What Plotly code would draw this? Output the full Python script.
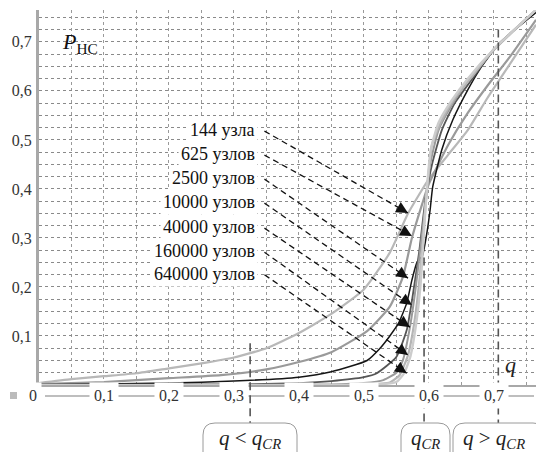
import plotly.graph_objects as go

# ---------------- data ----------------
series_names = ["144 узла", "625 узлов", "2500 узлов", "10000 узлов",
                "40000 узлов", "160000 узлов", "640000 узлов"]

q_144 = [0, 0.05, 0.1, 0.15, 0.2, 0.25, 0.3, 0.35, 0.4, 0.45, 0.5, 0.54, 0.568, 0.6, 0.63, 0.66, 0.69, 0.725, 0.765]
p_144 = [0.004, 0.012, 0.018, 0.024, 0.034, 0.044, 0.056, 0.075, 0.106, 0.145, 0.195, 0.27, 0.35, 0.42, 0.47, 0.52, 0.585, 0.655, 0.735]

q_625 = [0, 0.1, 0.15, 0.2, 0.28, 0.35, 0.4, 0.45, 0.505, 0.54, 0.56, 0.574, 0.59, 0.6, 0.63, 0.66, 0.69, 0.725, 0.765]
p_625 = [0.002, 0.006, 0.01, 0.014, 0.02, 0.032, 0.047, 0.067, 0.11, 0.16, 0.22, 0.3, 0.37, 0.41, 0.49, 0.555, 0.61, 0.67, 0.745]

q_2500 = [0, 0.1, 0.2, 0.3, 0.4, 0.45, 0.505, 0.525, 0.54, 0.553, 0.566, 0.574, 0.582, 0.59, 0.597, 0.602, 0.606, 0.62, 0.637, 0.66, 0.678, 0.709, 0.765]
p_2500 = [0.001, 0.002, 0.004, 0.008, 0.016, 0.027, 0.05, 0.075, 0.1, 0.125, 0.167, 0.214, 0.251, 0.263, 0.31, 0.357, 0.404, 0.48, 0.541, 0.602, 0.643, 0.698, 0.76]

q_10000 = [0, 0.3, 0.4, 0.45, 0.5, 0.52, 0.55, 0.566, 0.575, 0.585, 0.595, 0.605, 0.62, 0.64, 0.67, 0.7, 0.765]
p_10000 = [0, 0.001, 0.004, 0.008, 0.016, 0.024, 0.057, 0.112, 0.18, 0.27, 0.38, 0.45, 0.52, 0.575, 0.63, 0.685, 0.765]

q_40000 = [0, 0.45, 0.5, 0.53, 0.55, 0.56, 0.571, 0.58, 0.588, 0.595, 0.602, 0.615, 0.635, 0.66, 0.7, 0.765]
p_40000 = [0, 0.001, 0.004, 0.01, 0.025, 0.05, 0.118, 0.2, 0.29, 0.37, 0.45, 0.52, 0.57, 0.62, 0.683, 0.765]

q_160000 = [0, 0.5, 0.54, 0.555, 0.568, 0.578, 0.586, 0.592, 0.598, 0.605, 0.62, 0.64, 0.67, 0.7, 0.765]
p_160000 = [0, 0.001, 0.005, 0.02, 0.061, 0.13, 0.22, 0.32, 0.41, 0.49, 0.54, 0.585, 0.635, 0.685, 0.765]

q_640000 = [0, 0.52, 0.55, 0.562, 0.572, 0.58, 0.587, 0.592, 0.597, 0.603, 0.615, 0.635, 0.66, 0.7, 0.765]
p_640000 = [0, 0.001, 0.006, 0.024, 0.06, 0.12, 0.2, 0.3, 0.4, 0.48, 0.535, 0.58, 0.625, 0.685, 0.765]

series_q = [q_144, q_625, q_2500, q_10000, q_40000, q_160000, q_640000]
series_p = [p_144, p_625, p_2500, p_10000, p_40000, p_160000, p_640000]

# legend label anchor (value coords) and arrow targets
label_q = 0.337
label_p = [0.520, 0.471, 0.422, 0.373, 0.322, 0.273, 0.227]
arrow_start_q = 0.347
arrow_end_q = [0.568, 0.574, 0.568, 0.574, 0.571, 0.568, 0.566]
arrow_end_p = [0.351, 0.304, 0.218, 0.163, 0.118, 0.061, 0.024]

x_tick_vals = [0, 0.1, 0.2, 0.3, 0.4, 0.5, 0.6, 0.7]
x_tick_text = ["0", "0,1", "0,2", "0,3", "0,4", "0,5", "0,6", "0,7"]
y_tick_vals = [0.1, 0.2, 0.3, 0.4, 0.5, 0.6, 0.7]
y_tick_text = ["0,1", "0,2", "0,3", "0,4", "0,5", "0,6", "0,7"]

# regime markers: q position and upper end (P) of dashed line
regime_q = [0.325, 0.5927, 0.707]
regime_top = [0.085, 0.26, 0.725]

# ---------------- styles ----------------
colors = ["#b8b8b8", "#9a9a9a", "#151515", "#555555", "#999999", "#b5b5b5", "#cccccc"]
widths = [2.2, 2.2, 1.5, 1.8, 2.0, 2.2, 2.4]
SERIF = "Liberation Serif"

W, H = 536, 452
ML, MR, MT, MB = 39, 0, 10, 67
PW, PH = W - ML - MR, H - MT - MB
XMAX, YMAX = 0.765, 0.765

def pxx(px):
    return (px - ML) / PW

def pxy(py):
    return (H - MB - py) / PH

fig = go.Figure()

for q, p, c, w, n in zip(series_q, series_p, colors, widths, series_names):
    fig.add_trace(go.Scatter(x=q, y=p, mode="lines", name=n,
                             line=dict(color=c, width=w, shape="spline", smoothing=0.5),
                             hoverinfo="skip", showlegend=False))

annotations = []
shapes = []

# dashed arrow shafts + solid arrowheads
for ep_q, ep_p, lp in zip(arrow_end_q, arrow_end_p, label_p):
    sp = lp - 0.002
    fig.add_trace(go.Scatter(
        x=[arrow_start_q, ep_q], y=[sp, ep_p], mode="lines",
        line=dict(color="#111111", width=1.3, dash="6px,4px"),
        hoverinfo="skip", showlegend=False))
    annotations.append(dict(x=ep_q, y=ep_p, xref="x", yref="y",
                            ax=ep_q - 0.04 * (ep_q - arrow_start_q),
                            ay=ep_p - 0.04 * (ep_p - sp),
                            axref="x", ayref="y", text="", showarrow=True,
                            arrowhead=2, arrowsize=1.8, arrowwidth=1.3,
                            arrowcolor="#111111", standoff=0, startstandoff=0))

# legend-like labels
for n, lp in zip(series_names, label_p):
    annotations.append(dict(x=label_q, y=lp, xref="x", yref="y", text=n,
                            showarrow=False, xanchor="right", yanchor="middle",
                            bgcolor="white", borderpad=2,
                            font=dict(family=SERIF, size=18, color="#111111")))

# x tick labels row with gray connecting line
shapes.append(dict(type="line", xref="paper", yref="paper",
                   x0=pxx(45), x1=pxx(534), y0=pxy(396), y1=pxy(396),
                   line=dict(color="#a8a8a8", width=1.5), layer="above"))
shapes.append(dict(type="rect", xref="paper", yref="paper",
                   x0=pxx(10), x1=pxx(17), y0=pxy(392), y1=pxy(399),
                   fillcolor="#bbbbbb", line=dict(width=0)))
for v, t in zip(x_tick_vals, x_tick_text):
    annotations.append(dict(x=v, y=pxy(395), xref="x", yref="paper", text=t,
                            showarrow=False, xanchor="center", yanchor="middle",
                            xshift=(-6 if v == 0 else 0),
                            bgcolor="white", borderpad=4,
                            font=dict(family=SERIF, size=16, color="#333333")))

# dashed regime lines extending below the axis
for rq, rt in zip(regime_q, regime_top):
    shapes.append(dict(type="line", xref="x", yref="paper",
                       x0=rq, x1=rq, y0=rt / YMAX, y1=pxy(423),
                       line=dict(color="#555555", width=1.6, dash="8px,5px"), layer="above"))

# rounded boxes at bottom
def rbox(x0, x1, y0, y1, r=12):
    X0, X1 = pxx(x0), pxx(x1)
    Y0, Y1 = pxy(y0), pxy(y1)
    rx, ry = r / PW, r / PH
    return ("M {a},{b} L {c},{b} Q {d},{b} {d},{e} L {d},{f} L {g},{f} L {g},{e} Q {g},{b} {h},{b} Z"
            .format(a=X0 + rx, b=Y0, c=X1 - rx, d=X1, e=Y0 - ry, f=Y1, g=X0, h=X0 + rx))

boxes = [(203, 297), (401, 450), (453, 545)]
box_centers = [250, 425, 494]
box_texts = ["<i>q</i> &lt; <i>q</i><sub><i>CR</i></sub>",
             "<i>q</i><sub><i>CR</i></sub>",
             "<i>q</i> &gt; <i>q</i><sub><i>CR</i></sub>"]
for (b0, b1), cx, t in zip(boxes, box_centers, box_texts):
    shapes.append(dict(type="path", xref="paper", yref="paper",
                       path=rbox(b0, b1, 423, 480), fillcolor="white",
                       line=dict(color="#9a9a9a", width=1)))
    annotations.append(dict(x=pxx(cx), y=pxy(439), xref="paper", yref="paper", text=t,
                            showarrow=False, xanchor="center", yanchor="middle",
                            font=dict(family=SERIF, size=21, color="#222222")))

# axis captions
annotations.append(dict(x=0.032, y=0.698, xref="x", yref="y",
                        text="<i>P</i><sub>НС</sub>", showarrow=False,
                        xanchor="left", yanchor="middle",
                        font=dict(family=SERIF, size=22, color="#111111")))
annotations.append(dict(x=0.725, y=0.041, xref="x", yref="y",
                        text="<i>q</i>", showarrow=False,
                        xanchor="center", yanchor="middle",
                        font=dict(family=SERIF, size=22, color="#222222")))

fig.update_layout(
    width=W, height=H,
    margin=dict(l=ML, r=MR, t=MT, b=MB, pad=0),
    paper_bgcolor="white", plot_bgcolor="white",
    showlegend=False,
    font=dict(family=SERIF),
    shapes=shapes, annotations=annotations,
    xaxis=dict(range=[0, XMAX], dtick=0.05, tick0=0, showgrid=True,
               gridcolor="#9a9a9a", griddash="dot", gridwidth=1,
               showticklabels=False, ticks="", zeroline=False,
               showline=True, linecolor="#a8a8a8", linewidth=2),
    yaxis=dict(range=[0, YMAX], tickvals=y_tick_vals, ticktext=y_tick_text,
               showgrid=True, gridcolor="#8a8a8a", griddash="dot", gridwidth=1,
               minor=dict(dtick=0.025, tick0=0, showgrid=True, gridcolor="#8a8a8a",
                          griddash="dot", gridwidth=1),
               ticks="", zeroline=False, ticklabelstandoff=1,
               showline=True, linecolor="#a8a8a8", linewidth=3,
               tickfont=dict(family=SERIF, size=16, color="#333333")),
)

fig.write_html("out.html", config={"displayModeBar": False},
               post_script="document.body.style.margin='0';document.body.style.overflow='hidden';")
